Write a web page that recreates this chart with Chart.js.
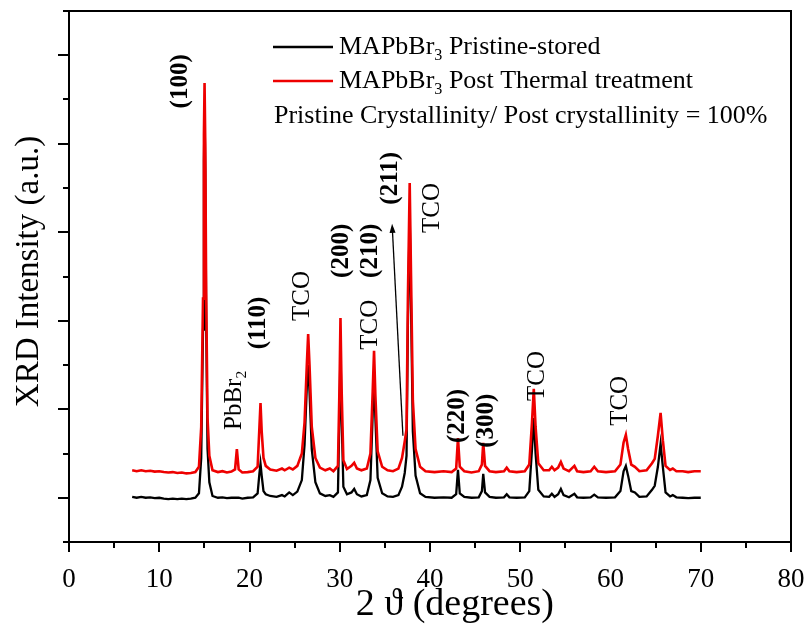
<!DOCTYPE html>
<html>
<head>
<meta charset="utf-8">
<script src="https://cdn.jsdelivr.net/npm/chart.js@4.4.1/dist/chart.umd.min.js"></script>
<style>
  html, body { margin: 0; padding: 0; background: #fff; }
  #wrap { width: 811px; height: 632px; }
</style>
</head>
<body>
<div id="wrap"><canvas id="xrd"></canvas></div>
<script>
const SERIF = '"Liberation Serif", "Times New Roman", serif';

// 2 theta positions (degrees), shared by both patterns
const twoTheta = [
  7.0, 7.5, 8.0, 8.5, 9.0, 9.5, 10.0, 10.5, 11.0, 11.5, 12.0, 12.5, 13.0, 13.5, 14.0,
  14.4, 14.65, 14.85, 14.95, 15.02, 15.1, 15.2, 15.35, 15.55, 15.9, 16.5, 17.0, 17.5, 18.0,
  18.4, 18.6, 18.8, 19.2, 19.8, 20.4, 20.9, 21.1, 21.22, 21.35, 21.55, 21.8, 22.3, 23.0,
  23.6, 23.9, 24.4, 24.8, 25.3, 25.8, 26.1, 26.35, 26.5, 26.65, 26.9, 27.3, 27.8, 28.4,
  28.9, 29.3, 29.8, 29.98, 30.08, 30.2, 30.4, 30.8, 31.3, 31.6, 31.9, 32.4, 33.0, 33.4,
  33.65, 33.8, 33.95, 34.2, 34.7, 35.3, 35.9, 36.5, 36.9, 37.2, 37.4, 37.55, 37.75, 37.9,
  38.1, 38.4, 38.9, 39.5, 40.5, 41.5, 42.4, 42.9, 43.1, 43.3, 43.8, 44.6, 45.4, 45.75,
  45.9, 46.1, 46.6, 47.3, 48.2, 48.5, 48.8, 49.6, 50.5, 51.0, 51.3, 51.5, 51.7, 52.0,
  52.6, 53.2, 53.5, 53.8, 54.2, 54.5, 54.8, 55.4, 56.0, 56.3, 57.0, 57.8, 58.2, 58.6,
  59.5, 60.5, 61.1, 61.45, 61.7, 61.95, 62.3, 62.7, 63.2, 64.0, 64.6, 64.9, 65.25, 65.55,
  65.8, 66.1, 66.6, 66.9, 67.3, 68.0, 68.6, 69.3, 70.0
];

// MAPbBr3 pristine-stored (black)
const pristine = [
  0.02, 0.0, 0.02, 0.0, 0.01, -0.01, 0.0, -0.02, -0.03, -0.02, -0.03, -0.02, -0.03, -0.02, 0.0,
  0.1, 0.9, 3.8, 7.6, 8.7, 7.4, 4.0, 1.1, 0.35, 0.04, 0.0, 0.01, -0.01, 0.0,
  0.0, 0.0, 0.0, -0.02, 0.0, 0.01, 0.1, 0.55, 0.77, 0.5, 0.15, 0.08, 0.04, 0.02,
  0.06, 0.03, 0.12, 0.06, 0.14, 0.4, 1.2, 2.5, 3.0, 2.4, 1.1, 0.35, 0.1, 0.04,
  0.06, 0.02, 0.12, 2.0, 3.4, 1.9, 0.25, 0.08, 0.12, 0.2, 0.08, 0.03, 0.06, 0.4,
  1.9, 2.7, 1.8, 0.45, 0.1, 0.03, 0.02, 0.06, 0.25, 0.56, 0.95, 3.9, 6.4, 4.3,
  1.5, 0.5, 0.1, 0.02, 0.0, 0.01, 0.0, 0.08, 0.63, 0.1, 0.02, 0.0, 0.01, 0.15,
  0.54, 0.12, 0.02, 0.0, 0.01, 0.08, 0.01, 0.0, 0.01, 0.15, 1.1, 1.8, 1.0, 0.18,
  0.03, 0.02, 0.09, 0.02, 0.08, 0.2, 0.06, 0.01, 0.09, 0.01, 0.0, 0.01, 0.07, 0.01,
  0.0, 0.01, 0.15, 0.6, 0.72, 0.5, 0.15, 0.12, 0.02, 0.03, 0.18, 0.27, 0.7, 1.22,
  0.7, 0.12, 0.03, 0.06, 0.01, 0.0, -0.01, 0.0, 0.0
];

// MAPbBr3 post thermal treatment (red)
const thermal = [
  0.62, 0.60, 0.62, 0.60, 0.61, 0.59, 0.60, 0.58, 0.57, 0.58, 0.56, 0.57, 0.55, 0.56, 0.58,
  0.7, 1.6, 4.5, 8.2, 9.37, 8.0, 4.6, 1.8, 0.95, 0.62, 0.58, 0.60, 0.57, 0.59,
  0.64, 1.10, 0.64, 0.57, 0.58, 0.60, 0.70, 1.6, 2.14, 1.5, 0.9, 0.72, 0.64, 0.61,
  0.66, 0.62, 0.68, 0.64, 0.72, 1.0, 1.7, 3.0, 3.70, 3.0, 1.6, 0.9, 0.68, 0.62,
  0.66, 0.60, 0.72, 2.6, 4.06, 2.5, 0.85, 0.65, 0.72, 0.79, 0.66, 0.62, 0.66, 1.0,
  2.4, 3.32, 2.3, 1.05, 0.7, 0.62, 0.60, 0.66, 0.9, 1.27, 1.55, 4.5, 7.11, 5.0,
  2.2, 1.1, 0.7, 0.60, 0.58, 0.60, 0.58, 0.66, 1.35, 0.7, 0.60, 0.57, 0.60, 0.75,
  1.24, 0.72, 0.60, 0.58, 0.60, 0.68, 0.60, 0.58, 0.60, 0.75, 1.7, 2.46, 1.6, 0.78,
  0.62, 0.62, 0.70, 0.62, 0.68, 0.81, 0.66, 0.60, 0.72, 0.60, 0.58, 0.60, 0.70, 0.60,
  0.58, 0.60, 0.75, 1.25, 1.42, 1.1, 0.75, 0.70, 0.60, 0.62, 0.78, 0.88, 1.4, 1.92,
  1.3, 0.72, 0.63, 0.66, 0.60, 0.60, 0.58, 0.60, 0.60
];

const xTicks = [0, 10, 20, 30, 40, 50, 60, 70, 80];

// peak labels: text, sub-script part, 2theta, intensity position, bold
const peakText = ['(100)', 'PbBr', '(110)', 'TCO', '(200)', 'TCO', '(210)', '(211)', 'TCO', '(220)', '(300)', 'TCO', 'TCO'];
const peakSub  = ['', '2', '', '', '', '', '', '', '', '', '', '', ''];
const peakX    = [12.4, 18.3, 20.95, 25.85, 30.25, 33.45, 33.45, 35.6, 40.25, 43.0, 46.3, 51.85, 61.05];
const peakY    = [9.41, 2.2, 3.95, 4.56, 5.58, 3.91, 5.58, 7.22, 6.55, 1.85, 1.74, 2.75, 2.19];
const peakBold = [true, false, true, false, true, false, true, true, false, true, true, false, false];

// arrow from the (211) shoulder up to its label
const arrowFrom = [37.0, 1.40];
const arrowTo = [35.8, 6.19];

const seriesNames = ['MAPbBr', 'MAPbBr'];
const seriesTail = [' Pristine-stored', ' Post Thermal treatment'];
const seriesColors = ['#000000', '#ee0000'];
const noteText = 'Pristine Crystallinity/ Post crystallinity = 100%';

function pts(vals) {
  return twoTheta.map((t, i) => ({ x: t, y: vals[i] }));
}

// draws text pieces, some as subscripts, starting at x (baseline middle)
function drawParts(ctx, parts, x, y, size, bold) {
  let cx = x;
  parts.forEach(p => {
    const s = p.sub ? size * 0.62 : size;
    ctx.font = (bold ? 'bold ' : '') + s + 'px ' + SERIF;
    ctx.fillText(p.t, cx, y + (p.sub ? size * 0.32 : 0));
    cx += ctx.measureText(p.t).width;
  });
  return cx - x;
}
function partsWidth(ctx, parts, size, bold) {
  let w = 0;
  parts.forEach(p => {
    const s = p.sub ? size * 0.62 : size;
    ctx.font = (bold ? 'bold ' : '') + s + 'px ' + SERIF;
    w += ctx.measureText(p.t).width;
  });
  return w;
}

const decor = {
  id: 'decor',
  afterDraw(chart) {
    const { ctx, chartArea: a } = chart;
    const x = chart.scales.x, y = chart.scales.y;
    ctx.save();
    ctx.fillStyle = '#000';
    ctx.strokeStyle = '#000';
    ctx.lineWidth = 2;
    ctx.strokeRect(a.left, a.top, a.right - a.left, a.bottom - a.top);

    // tick marks
    ctx.beginPath();
    for (let v = 0; v <= 80; v += 5) {
      const px = Math.round(x.getPixelForValue(v));
      ctx.moveTo(px, a.bottom);
      ctx.lineTo(px, a.bottom + (v % 10 === 0 ? 10 : 6));
    }
    for (let v = -1; v <= 11; v++) {
      const py = Math.round(y.getPixelForValue(v));
      ctx.moveTo(a.left, py);
      ctx.lineTo(a.left - (v % 2 === 0 ? 11 : 6), py);
    }
    ctx.stroke();

    // axis titles
    ctx.textBaseline = 'middle';
    ctx.textAlign = 'right';
    ctx.font = '38px ' + SERIF;
    ctx.fillText('2 \u03D1 (degrees)', 554, 605);
    ctx.save();
    ctx.translate(29, (a.top + a.bottom) / 2 - 5);
    ctx.rotate(-Math.PI / 2);
    ctx.textAlign = 'center';
    ctx.font = '33px ' + SERIF;
    ctx.fillText('XRD Intensity (a.u.)', 0, 0);
    ctx.restore();

    // legend
    ctx.textAlign = 'left';
    for (let i = 0; i < 2; i++) {
      const ly = a.top + 36 + i * 34;
      ctx.strokeStyle = seriesColors[i];
      ctx.lineWidth = 2.5;
      ctx.beginPath();
      ctx.moveTo(a.left + 204, ly);
      ctx.lineTo(a.left + 264, ly);
      ctx.stroke();
      drawParts(ctx, [{ t: seriesNames[i] }, { t: '3', sub: true }, { t: seriesTail[i] }], a.left + 270, ly, 26, false);
    }
    ctx.font = '26px ' + SERIF;
    ctx.fillText(noteText, a.left + 205, a.top + 105);

    // peak labels
    peakText.forEach((t, i) => {
      const px = x.getPixelForValue(peakX[i]);
      const py = y.getPixelForValue(peakY[i]);
      const size = 25;
      const parts = [{ t }];
      if (peakSub[i]) parts.push({ t: peakSub[i], sub: true });
      const w = partsWidth(ctx, parts, size, peakBold[i]);
      ctx.save();
      ctx.translate(px, py);
      ctx.rotate(-Math.PI / 2);
      ctx.textAlign = 'left';
      drawParts(ctx, parts, -w / 2, 0, size, peakBold[i]);
      ctx.restore();
    });

    // arrow
    const x0 = x.getPixelForValue(arrowFrom[0]), y0 = y.getPixelForValue(arrowFrom[1]);
    const x1 = x.getPixelForValue(arrowTo[0]), y1 = y.getPixelForValue(arrowTo[1]);
    const ang = Math.atan2(y1 - y0, x1 - x0);
    ctx.strokeStyle = '#000';
    ctx.lineWidth = 1.3;
    ctx.beginPath();
    ctx.moveTo(x0, y0);
    ctx.lineTo(x1 - 6 * Math.cos(ang), y1 - 6 * Math.sin(ang));
    ctx.stroke();
    ctx.beginPath();
    ctx.moveTo(x1, y1);
    ctx.lineTo(x1 - 9 * Math.cos(ang) + 3 * Math.sin(ang), y1 - 9 * Math.sin(ang) - 3 * Math.cos(ang));
    ctx.lineTo(x1 - 9 * Math.cos(ang) - 3 * Math.sin(ang), y1 - 9 * Math.sin(ang) + 3 * Math.cos(ang));
    ctx.closePath();
    ctx.fill();
    ctx.restore();
  }
};

new Chart(document.getElementById('xrd'), {
  type: 'line',
  data: {
    datasets: [
      { label: 'pristine', data: pts(pristine), borderColor: seriesColors[0], borderWidth: 2.3, pointRadius: 0, tension: 0, order: 2 },
      { label: 'thermal', data: pts(thermal), borderColor: seriesColors[1], borderWidth: 2.6, pointRadius: 0, tension: 0, order: 1 }
    ]
  },
  options: {
    responsive: true,
    maintainAspectRatio: false,
    animation: false,
    layout: { padding: { top: 11, right: 20, left: 0, bottom: 0 } },
    plugins: { legend: { display: false }, tooltip: { enabled: false } },
    scales: {
      x: {
        type: 'linear',
        min: 0,
        max: 80,
        afterFit(s) { s.height = 90; s.paddingLeft = 0; s.paddingRight = 0; },
        afterBuildTicks(s) { s.ticks = xTicks.map(v => ({ value: v })); },
        grid: { display: false, drawTicks: false },
        border: { display: false },
        ticks: { color: '#000', padding: 22, font: { family: SERIF, size: 27 } }
      },
      y: {
        type: 'linear',
        min: -1,
        max: 11,
        afterFit(s) { s.width = 69; s.paddingTop = 0; s.paddingBottom = 0; },
        grid: { display: false, drawTicks: false },
        border: { display: false },
        ticks: { display: false }
      }
    }
  },
  plugins: [decor]
});
</script>
</body>
</html>
